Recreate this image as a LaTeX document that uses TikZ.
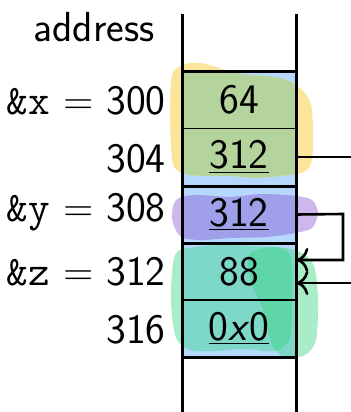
\documentclass[tikz,border=0pt]{standalone}
\usetikzlibrary{arrows.meta,calc}

\definecolor{cellblue}{RGB}{180,216,254}
\definecolor{hlyellow}{RGB}{250,229,155}
\definecolor{hlgreen}{RGB}{180,211,157}
\definecolor{hlpurple}{RGB}{205,183,236}
\definecolor{hlviolet}{RGB}{160,160,234}
\definecolor{hlmint}{RGB}{168,237,200}
\definecolor{hlteal}{RGB}{125,216,200}
\definecolor{hlsea}{RGB}{94,214,168}

% highlighter strokes
\newcommand{\yellowblob}{plot[smooth cycle] coordinates {(172,75) (185,64) (200,63) (213,66) (228,71) (248,75) (268,76) (287,80) (302,90) (311,104) (313,132) (312,160) (304,172) (280,176) (255,178) (230,176) (205,176) (185,174) (173,164) (170,120)}}
\newcommand{\purpleblob}{plot[smooth cycle] coordinates {(176,200) (195,195) (230,197) (262,194) (296,196) (312,200) (318,213) (312,228) (295,233) (265,237) (230,238) (200,240) (180,236) (172,218)}}
\newcommand{\mintA}{plot[smooth cycle] coordinates {(175,255) (195,247) (225,245) (255,246) (280,248) (291,258) (292,300) (290,338) (275,351) (245,349) (215,351) (190,350) (176,338) (171,300)}}
\newcommand{\mintB}{plot[smooth cycle] coordinates {(252,252) (275,247) (300,252) (314,266) (318,300) (316,340) (305,355) (285,357) (272,345) (264,312) (252,285) (248,265)}}

\begin{document}
\begin{tikzpicture}[x=0.5pt,y=-0.5pt,
  wall/.style={line width=1.5pt},
  thinrule/.style={line width=0.6pt},
  wire/.style={line width=1.3pt},
  tip/.style={-{To[length=6pt,width=12pt]}},
  big/.style={font=\fontsize{21}{25}\selectfont\sffamily},
  row/.style={big,minimum width=57pt,minimum height=28.6pt,inner sep=0pt},
  addr/.style={big,anchor=east,inner sep=0pt}]
\useasboundingbox (0,0) rectangle (351,412);

% cell background
\fill[cellblue] (182,71) rectangle (296,357);

% highlighter marks outside the cells
\fill[hlyellow] \yellowblob;
\fill[hlpurple] \purpleblob;
\fill[hlmint] \mintA;
\fill[hlmint] \mintB;

% the same marks over the blue cells
\begin{scope}
  \clip (182,71) rectangle (296,357);
  \fill[hlgreen] \yellowblob;
  \fill[hlviolet] \purpleblob;
  \fill[hlteal] \mintA;
  \fill[hlteal] \mintB;
  \begin{scope}
    \clip \mintA;
    \fill[hlsea] \mintB;
  \end{scope}
\end{scope}

% memory cells
\node[row] (r1) at (239,99.5) {64};
\node[row] (r2) at (239,157) {\underline{312}};
\node[row] (r3) at (239,214.5) {\underline{312}};
\node[row] (r4) at (239,271.5) {88};
\node[row] (r5) at (239,328.5) {\underline{0\textit{x}0}};

% column walls and separators
\draw[wall] (182,14) -- (182,412);
\draw[wall] (296,14) -- (296,412);
\draw[wall] (182,71) -- (296,71);
\draw[wall] (182,186) -- (296,186);
\draw[wall] (182,243) -- (296,243);
\draw[wall] (182,357) -- (296,357);
\draw[thinrule] (182,128.5) -- (296,128.5);
\draw[thinrule] (182,300) -- (296,300);

% addresses
\node[big,anchor=base,inner sep=0pt] (head) at (94,41) {address};
\node[addr] (a1) at (166,101) {\texttt{\&x} $=$ 300};
\node[addr] (a2) at (166,159) {304};
\node[addr] (a3) at (166,212) {\texttt{\&y} $=$ 308};
\node[addr] (a4) at (166,271.5) {\texttt{\&z} $=$ 312};
\node[addr] (a5) at (166,330) {316};

% pointers
\coordinate (out2) at (351,157);
\coordinate (in4) at (351,283);
\coordinate (bend) at (343,214);
\draw[wire] (r2.east) -- (out2);
\draw[wire,tip] (r3.east) -- (bend) |- ($(r4.east)+(0,-11.5)$);
\draw[wire,tip] (in4) -- ($(r4.east)+(0,11.5)$);
\end{tikzpicture}
\end{document}
